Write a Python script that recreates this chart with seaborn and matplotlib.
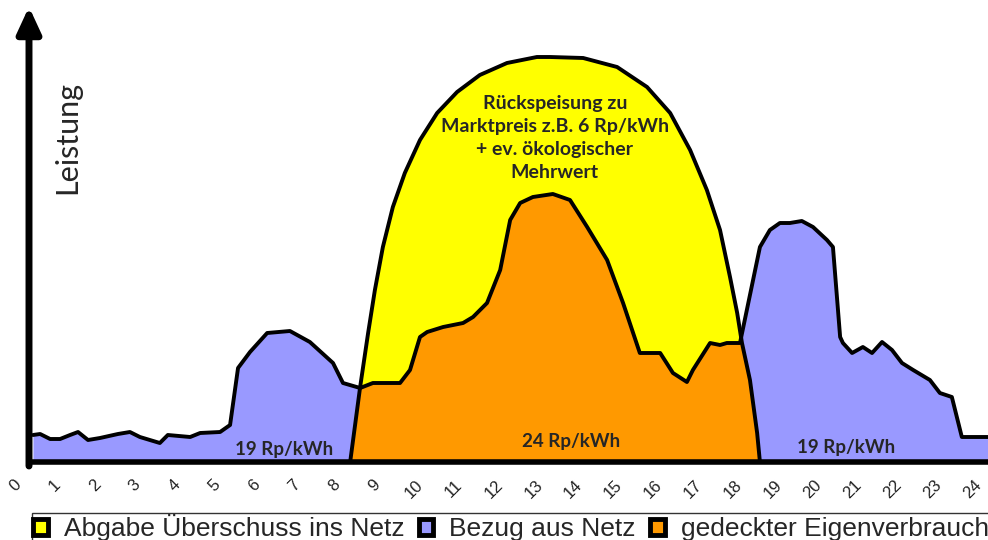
import numpy as np
import pandas as pd
import matplotlib
matplotlib.use("Agg")
import matplotlib.pyplot as plt
from matplotlib.patches import Patch
import seaborn as sns

# Lastgang (Verbrauch) ueber den Tag, Stunde / Leistung (willkuerliche Einheit)
load_h = [0.45, 0.63, 0.88, 1.13, 1.38, 1.58, 1.83, 2.13, 2.58, 2.88, 3.13, 3.38, 3.63, 3.83,
          4.39, 4.64, 5.14, 5.39, 5.59, 5.89, 6.32, 6.89, 7.39, 7.97, 8.22, 8.65, 8.97, 9.65,
          9.90, 10.15, 10.33, 10.73, 11.23, 11.48, 11.83, 12.16, 12.41, 12.66, 12.98, 13.48,
          13.91, 14.34, 14.84, 15.24, 15.66, 16.17, 16.49, 16.84, 16.99, 17.42, 17.67, 17.84,
          18.17, 18.67, 18.92, 19.17, 19.42, 19.72, 20.00, 20.35, 20.50, 20.68, 20.75, 20.98,
          21.25, 21.48, 21.73, 21.98, 22.23, 22.51, 22.93, 23.18, 23.48, 23.73, 24.39]
load_p = [6.75, 7.0, 5.75, 5.75, 6.75, 7.5, 5.5, 6.0, 7.0, 7.5, 6.25, 5.5, 4.75, 6.75,
          6.25, 7.25, 7.5, 9.25, 23.5, 27.5, 32.25, 32.75, 30.0, 24.75, 19.75, 18.5, 19.75, 19.75,
          23.0, 31.25, 32.5, 33.75, 34.75, 36.25, 39.75, 48.0, 60.5, 64.75, 66.25, 67.0,
          65.5, 58.75, 50.5, 39.75, 27.25, 27.25, 22.25, 20.0, 23.0, 29.75, 29.25, 29.75,
          29.75, 53.75, 58.0, 59.75, 59.75, 60.25, 58.75, 55.5, 53.75, 31.25, 29.75, 27.25,
          28.75, 27.25, 30.0, 28.0, 24.75, 23.0, 20.5, 17.25, 16.25, 6.25, 6.25]

# PV-Produktion (Glockenkurve)
pv_h = [8.40, 8.65, 8.85, 9.02, 9.22, 9.47, 9.77, 10.15, 10.58, 11.08, 11.65, 12.33, 13.08,
        13.41, 14.24, 15.09, 15.84, 16.42, 16.92, 17.34, 17.67, 17.92, 18.10, 18.22, 18.42,
        18.60, 18.67]
pv_p = [0, 18.75, 32.25, 43.0, 53.75, 63.75, 72.25, 80.5, 87.25, 92.5, 96.75, 99.75, 101.25,
        101.25, 101.0, 98.75, 93.75, 87.25, 78.0, 68.0, 58.0, 46.25, 37.25, 29.75, 20.5,
        7.25, 0]

hours = list(range(0, 25))
legend_labels = ["Abgabe Überschuss ins Netz", "Bezug aus Netz", "gedeckter Eigenverbrauch"]
c_yellow, c_blue, c_orange = "#FFFF00", "#9999FF", "#FF9900"

sns.set_theme(style="white")
plt.rcParams["font.family"] = ["Liberation Sans", "DejaVu Sans"]

fig = plt.figure(figsize=(9.88, 5.4), dpi=100)
ax = fig.add_axes([0, 78 / 540, 1, 462 / 540])

# gemeinsames Raster fuer die Flaechen
x = np.union1d(load_h, pv_h)
load_i = np.interp(x, load_h, load_p)
pv_i = np.interp(x, pv_h, pv_p, left=0, right=0)
own = np.minimum(load_i, pv_i)

ax.fill_between(x, 0, own, color=c_orange, lw=0)
ax.fill_between(x, own, load_i, where=load_i >= own, color=c_blue, lw=0, interpolate=True)
ax.fill_between(x, load_i, pv_i, where=pv_i >= load_i, color=c_yellow, lw=0, interpolate=True)

df_load = pd.DataFrame({"h": load_h, "p": load_p})
df_pv = pd.DataFrame({"h": pv_h, "p": pv_p})
sns.lineplot(data=df_load, x="h", y="p", color="black", lw=2.8, ax=ax,
             solid_joinstyle="round", solid_capstyle="round")
sns.lineplot(data=df_pv, x="h", y="p", color="black", lw=2.8, ax=ax,
             solid_joinstyle="round", solid_capstyle="round")

x0 = 14 / 39.9  # Lage der y-Achse
ax.set_xlim(-15 / 39.9, 973 / 39.9)
ax.set_ylim(0, 115.5)

for s in ["top", "right", "left"]:
    ax.spines[s].set_visible(False)
ax.spines["bottom"].set_linewidth(4)
ax.spines["bottom"].set_color("black")
ax.spines["bottom"].set_bounds(x0, 973 / 39.9)
ax.set_yticks([])
ax.set_xticks(hours)
ax.set_xticklabels([str(h) for h in hours], rotation=45, ha="center", fontsize=12,
                   color="#222222")
ax.tick_params(axis="x", length=0, pad=11)
ax.set_xlabel("")
ax.set_ylabel("")

# y-Achse als Pfeil
ax.annotate("", xy=(x0, 113.8), xytext=(x0, -1),
            arrowprops=dict(arrowstyle="-|>,head_length=1.3,head_width=0.6", color="black",
                            lw=5, shrinkA=0, shrinkB=0))

ax.text(1.30, 81.25, "Leistung", rotation=90, ha="center", va="center",
        fontsize=22, family="Lato")
ax.text(13.53, 81.0, "Rückspeisung zu\nMarktpreis z.B. 6 Rp/kWh\n+ ev. ökologischer\nMehrwert",
        ha="center", va="center", fontsize=14, fontweight="bold", family="Lato",
        linespacing=1.42)
ax.text(6.74, 3.0, "19 Rp/kWh", ha="center", va="center", fontsize=13.5, fontweight="bold",
        family="Lato")
ax.text(13.93, 5.0, "24 Rp/kWh", ha="center", va="center", fontsize=13.5, fontweight="bold",
        family="Lato")
ax.text(20.83, 3.75, "19 Rp/kWh", ha="center", va="center", fontsize=13.5, fontweight="bold",
        family="Lato")

handles = [Patch(facecolor=c, edgecolor="black", lw=3.5) for c in (c_yellow, c_blue, c_orange)]
leg = fig.legend(handles, legend_labels, loc="upper left", bbox_to_anchor=(32 / 988, 27 / 540),
                 ncol=3, fontsize=19, frameon=True, fancybox=False, borderaxespad=0,
                 handlelength=0.55, handleheight=0.55, handletextpad=0.6, columnspacing=0.55,
                 borderpad=0.05)
leg.get_frame().set_edgecolor("black")
leg.get_frame().set_linewidth(1)

fig.savefig("out.png", dpi=100)
